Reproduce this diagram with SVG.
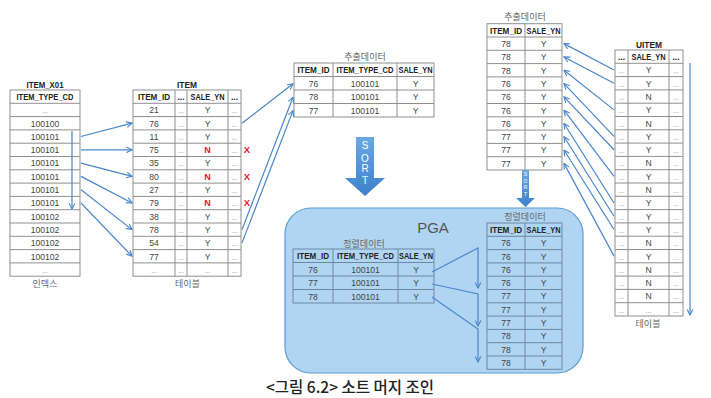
<svg xmlns="http://www.w3.org/2000/svg" width="711" height="398" viewBox="0 0 711 398">
<defs>
<style>
text{font-family:"Liberation Sans","Noto Sans CJK KR",sans-serif;text-anchor:middle}
.g{fill:#fff;stroke:#8f8f8f;stroke-width:1}
.gl{fill:none;stroke:#8f8f8f;stroke-width:1}
.pg{fill:none;stroke:#6c88a3;stroke-width:1}
.hd{font-size:8.5px;font-weight:bold;fill:#222}
.c{font-size:8.6px;fill:#444}
.d{font-size:6.5px;fill:#888}
.ttl{font-size:9.5px;font-weight:bold;fill:#222}
.kr{font-family:"Noto Sans CJK KR",sans-serif;font-size:9px;fill:#666}
.n{font-size:9px;font-weight:bold;fill:#e8141e}
.x{font-size:9.5px;font-weight:bold;fill:#e8141e}
.ar{fill:none;stroke:#4a86cc;stroke-width:1.2}
.so{font-family:"Liberation Sans",sans-serif;fill:#fff}
</style>
<marker id="ah" viewBox="0 0 10 10" refX="9" refY="5" markerWidth="7" markerHeight="7" markerUnits="userSpaceOnUse" orient="auto">
<path d="M1,1 L9,5 L1,9" fill="none" stroke="#4a86cc" stroke-width="1.6"/>
</marker>
<linearGradient id="bg" x1="0" y1="0" x2="0" y2="1">
<stop offset="0" stop-color="#6aa8e2"/>
<stop offset="1" stop-color="#3e80cc"/>
</linearGradient>
</defs>
<rect width="711" height="398" fill="#fff"/>

<!-- PGA background -->
<g id="pga">
<rect x="285" y="208" width="298" height="165" rx="26" fill="#b0d5f2" stroke="#5b9bd5" stroke-width="1.2"/>
<text x="433" y="233" style="font-family:'Liberation Sans',sans-serif;font-size:15px;fill:#555">PGA</text>
</g>

<!-- ITEM_X01 index -->
<g id="item_x01">
<text class="ttl" x="45" y="87.5" textLength="37" lengthAdjust="spacingAndGlyphs">ITEM_X01</text>
<rect class="g" x="10" y="90" width="70" height="186.2"/>
<path class="gl" d="M10,103.3H80M10,116.6H80M10,129.9H80M10,143.2H80M10,156.5H80M10,169.8H80M10,183.1H80M10,196.4H80M10,209.7H80M10,223H80M10,236.3H80M10,249.6H80M10,262.9H80"/>
<text class="hd" x="45" y="100" textLength="57" lengthAdjust="spacingAndGlyphs">ITEM_TYPE_CD</text>
<text class="d" x="45" y="113.2">...</text>
<text class="c" x="45" y="126.5">100100</text>
<text class="c" x="45" y="139.8">100101</text>
<text class="c" x="45" y="153.1">100101</text>
<text class="c" x="45" y="166.4">100101</text>
<text class="c" x="45" y="179.7">100101</text>
<text class="c" x="45" y="193">100101</text>
<text class="c" x="45" y="206.3">100101</text>
<text class="c" x="45" y="219.6">100102</text>
<text class="c" x="45" y="232.9">100102</text>
<text class="c" x="45" y="246.2">100102</text>
<text class="c" x="45" y="259.5">100102</text>
<text class="d" x="45" y="272.8">...</text>
<text class="kr" x="45" y="287">인덱스</text>
</g>

<!-- ITEM table -->
<g id="item">
<text class="ttl" x="187" y="87.5" textLength="20" lengthAdjust="spacingAndGlyphs">ITEM</text>
<rect class="g" x="133" y="90" width="108" height="186.2"/>
<path class="gl" d="M133,103.3H241M133,116.6H241M133,129.9H241M133,143.2H241M133,156.5H241M133,169.8H241M133,183.1H241M133,196.4H241M133,209.7H241M133,223H241M133,236.3H241M133,249.6H241M133,262.9H241M175,90V276.2M187,90V276.2M228,90V276.2"/>
<text class="hd" x="154" y="100" textLength="32" lengthAdjust="spacingAndGlyphs">ITEM_ID</text>
<text class="hd" x="181" y="100">...</text>
<text class="hd" x="207.5" y="100" textLength="34" lengthAdjust="spacingAndGlyphs">SALE_YN</text>
<text class="hd" x="234.5" y="100">...</text>
<g class="c">
<text x="154" y="113.2">21</text><text x="154" y="126.5">76</text><text x="154" y="139.8">11</text><text x="154" y="153.1">75</text><text x="154" y="166.4">35</text><text x="154" y="179.7">80</text><text x="154" y="193">27</text><text x="154" y="206.3">79</text><text x="154" y="219.6">38</text><text x="154" y="232.9">78</text><text x="154" y="246.2">54</text><text x="154" y="259.5">77</text>
<text x="207.5" y="113.2">Y</text><text x="207.5" y="126.5">Y</text><text x="207.5" y="139.8">Y</text><text x="207.5" y="166.4">Y</text><text x="207.5" y="193">Y</text><text x="207.5" y="219.6">Y</text><text x="207.5" y="232.9">Y</text><text x="207.5" y="246.2">Y</text><text x="207.5" y="259.5">Y</text>
</g>
<text class="n" x="207.5" y="153.1">N</text><text class="n" x="207.5" y="179.7">N</text><text class="n" x="207.5" y="206.3">N</text>
<g class="d">
<text x="181" y="113.2">...</text><text x="181" y="126.5">...</text><text x="181" y="139.8">...</text><text x="181" y="153.1">...</text><text x="181" y="166.4">...</text><text x="181" y="179.7">...</text><text x="181" y="193">...</text><text x="181" y="206.3">...</text><text x="181" y="219.6">...</text><text x="181" y="232.9">...</text><text x="181" y="246.2">...</text><text x="181" y="259.5">...</text><text x="181" y="272.8">...</text>
<text x="234.5" y="113.2">...</text><text x="234.5" y="126.5">...</text><text x="234.5" y="139.8">...</text><text x="234.5" y="153.1">...</text><text x="234.5" y="166.4">...</text><text x="234.5" y="179.7">...</text><text x="234.5" y="193">...</text><text x="234.5" y="206.3">...</text><text x="234.5" y="219.6">...</text><text x="234.5" y="232.9">...</text><text x="234.5" y="246.2">...</text><text x="234.5" y="259.5">...</text><text x="234.5" y="272.8">...</text>
<text x="154" y="272.8">...</text><text x="207.5" y="272.8">...</text>
</g>
<text class="x" x="247" y="153.1">X</text><text class="x" x="247" y="179.7">X</text><text class="x" x="247" y="206.3">X</text>
<text class="kr" x="187.5" y="287">테이블</text>
</g>

<!-- middle extracted data -->
<g id="extract1">
<text class="kr" x="365" y="59.5">추출데이터</text>
<rect class="g" x="294" y="63" width="140" height="54"/>
<path class="gl" d="M294,76.5H434M294,90H434M294,103.5H434M333,63V117M397,63V117"/>
<text class="hd" x="313.5" y="73" textLength="32" lengthAdjust="spacingAndGlyphs">ITEM_ID</text>
<text class="hd" x="365" y="73" textLength="57" lengthAdjust="spacingAndGlyphs">ITEM_TYPE_CD</text>
<text class="hd" x="415.5" y="73" textLength="34" lengthAdjust="spacingAndGlyphs">SALE_YN</text>
<g class="c">
<text x="313.5" y="86.5">76</text><text x="365" y="86.5">100101</text><text x="415.5" y="86.5">Y</text>
<text x="313.5" y="100">78</text><text x="365" y="100">100101</text><text x="415.5" y="100">Y</text>
<text x="313.5" y="113.5">77</text><text x="365" y="113.5">100101</text><text x="415.5" y="113.5">Y</text>
</g>
</g>

<!-- big SORT arrow -->
<g id="sort1">
<polygon points="356,137 374,137 374,178 385,178 365,196 345,178 356,178" fill="url(#bg)"/>
<g class="so" style="font-size:10px">
<text x="365" y="149">S</text><text x="365" y="161.5">O</text><text x="365" y="172">R</text><text x="365" y="183.5">T</text>
</g>
</g>

<!-- right extracted data -->
<g id="extract2">
<text class="kr" x="525" y="19.5">추출데이터</text>
<rect class="g" x="487" y="23.7" width="75" height="146.3"/>
<path class="gl" d="M487,37H562M487,50.3H562M487,63.6H562M487,76.9H562M487,90.2H562M487,103.5H562M487,116.8H562M487,130.1H562M487,143.4H562M487,156.7H562M525,23.7V170"/>
<text class="hd" x="506" y="33.6" textLength="32" lengthAdjust="spacingAndGlyphs">ITEM_ID</text>
<text class="hd" x="543.5" y="33.6" textLength="34" lengthAdjust="spacingAndGlyphs">SALE_YN</text>
<g class="c">
<text x="506" y="47">78</text><text x="506" y="60.3">78</text><text x="506" y="73.6">78</text><text x="506" y="86.9">76</text><text x="506" y="100.2">76</text><text x="506" y="113.5">76</text><text x="506" y="126.8">76</text><text x="506" y="140.1">77</text><text x="506" y="153.4">77</text><text x="506" y="166.7">77</text>
<text x="543.5" y="47">Y</text><text x="543.5" y="60.3">Y</text><text x="543.5" y="73.6">Y</text><text x="543.5" y="86.9">Y</text><text x="543.5" y="100.2">Y</text><text x="543.5" y="113.5">Y</text><text x="543.5" y="126.8">Y</text><text x="543.5" y="140.1">Y</text><text x="543.5" y="153.4">Y</text><text x="543.5" y="166.7">Y</text>
</g>
</g>

<!-- small SORT arrow -->
<g id="sort2">
<polygon points="522,170 529,170 529,198 535,198 525.5,207 516,198 522,198" fill="url(#bg)"/>
<g class="so" style="font-size:5px">
<text x="525.5" y="176">S</text><text x="525.5" y="182.5">O</text><text x="525.5" y="189">R</text><text x="525.5" y="195.5">T</text>
</g>
</g>

<!-- UITEM -->
<g id="uitem">
<text class="ttl" x="649" y="47.5" textLength="26" lengthAdjust="spacingAndGlyphs">UITEM</text>
<rect class="g" x="615" y="50" width="68" height="266"/>
<path class="gl" d="M615,63.3H683M615,76.6H683M615,89.9H683M615,103.2H683M615,116.5H683M615,129.8H683M615,143.1H683M615,156.4H683M615,169.7H683M615,183H683M615,196.3H683M615,209.6H683M615,222.9H683M615,236.2H683M615,249.5H683M615,262.8H683M615,276.1H683M615,289.4H683M615,302.7H683M628,50V316M669,50V316"/>
<text class="hd" x="621.5" y="60">...</text>
<text class="hd" x="648.5" y="60" textLength="34" lengthAdjust="spacingAndGlyphs">SALE_YN</text>
<text class="hd" x="676" y="60">...</text>
<g class="c">
<text x="648.5" y="73.3">Y</text><text x="648.5" y="86.6">Y</text><text x="648.5" y="99.9">N</text><text x="648.5" y="113.2">Y</text><text x="648.5" y="126.5">N</text><text x="648.5" y="139.8">Y</text><text x="648.5" y="153.1">Y</text><text x="648.5" y="166.4">N</text><text x="648.5" y="179.7">Y</text><text x="648.5" y="193">N</text><text x="648.5" y="206.3">Y</text><text x="648.5" y="219.6">Y</text><text x="648.5" y="232.9">Y</text><text x="648.5" y="246.2">N</text><text x="648.5" y="259.5">Y</text><text x="648.5" y="272.8">N</text><text x="648.5" y="286.1">N</text><text x="648.5" y="299.4">N</text>
</g>
<g class="d">
<text x="621.5" y="73.3">...</text><text x="621.5" y="86.6">...</text><text x="621.5" y="99.9">...</text><text x="621.5" y="113.2">...</text><text x="621.5" y="126.5">...</text><text x="621.5" y="139.8">...</text><text x="621.5" y="153.1">...</text><text x="621.5" y="166.4">...</text><text x="621.5" y="179.7">...</text><text x="621.5" y="193">...</text><text x="621.5" y="206.3">...</text><text x="621.5" y="219.6">...</text><text x="621.5" y="232.9">...</text><text x="621.5" y="246.2">...</text><text x="621.5" y="259.5">...</text><text x="621.5" y="272.8">...</text><text x="621.5" y="286.1">...</text><text x="621.5" y="299.4">...</text><text x="621.5" y="312.7">...</text>
<text x="676" y="73.3">...</text><text x="676" y="86.6">...</text><text x="676" y="99.9">...</text><text x="676" y="113.2">...</text><text x="676" y="126.5">...</text><text x="676" y="139.8">...</text><text x="676" y="153.1">...</text><text x="676" y="166.4">...</text><text x="676" y="179.7">...</text><text x="676" y="193">...</text><text x="676" y="206.3">...</text><text x="676" y="219.6">...</text><text x="676" y="232.9">...</text><text x="676" y="246.2">...</text><text x="676" y="259.5">...</text><text x="676" y="272.8">...</text><text x="676" y="286.1">...</text><text x="676" y="299.4">...</text><text x="676" y="312.7">...</text>
<text x="648.5" y="312.7">...</text>
</g>
<text class="kr" x="648" y="327">테이블</text>
</g>

<!-- PGA sorted data (left) -->
<g id="sorted1">
<text class="kr" x="364" y="247">정렬데이터</text>
<rect x="293" y="249" width="141" height="54" fill="none" stroke="#6c88a3"/>
<path class="pg" d="M293,262.5H434M293,276H434M293,289.5H434M333,249V303M398,249V303"/>
<text class="hd" x="313" y="259" textLength="32" lengthAdjust="spacingAndGlyphs">ITEM_ID</text>
<text class="hd" x="365.5" y="259" textLength="57" lengthAdjust="spacingAndGlyphs">ITEM_TYPE_CD</text>
<text class="hd" x="416" y="259" textLength="34" lengthAdjust="spacingAndGlyphs">SALE_YN</text>
<g class="c">
<text x="313" y="272.5">76</text><text x="365.5" y="272.5">100101</text><text x="416" y="272.5">Y</text>
<text x="313" y="286">77</text><text x="365.5" y="286">100101</text><text x="416" y="286">Y</text>
<text x="313" y="299.5">78</text><text x="365.5" y="299.5">100101</text><text x="416" y="299.5">Y</text>
</g>
</g>

<!-- PGA sorted data (right) -->
<g id="sorted2">
<text class="kr" x="525" y="219.5">정렬데이터</text>
<rect x="487" y="223" width="75" height="146.3" fill="none" stroke="#6c88a3"/>
<path class="pg" d="M487,236.3H562M487,249.6H562M487,262.9H562M487,276.2H562M487,289.5H562M487,302.8H562M487,316.1H562M487,329.4H562M487,342.7H562M487,356H562M525,223V369.3"/>
<text class="hd" x="506" y="233" textLength="32" lengthAdjust="spacingAndGlyphs">ITEM_ID</text>
<text class="hd" x="543.5" y="233" textLength="34" lengthAdjust="spacingAndGlyphs">SALE_YN</text>
<g class="c">
<text x="506" y="246.2">76</text><text x="506" y="259.5">76</text><text x="506" y="272.8">76</text><text x="506" y="286.1">76</text><text x="506" y="299.4">77</text><text x="506" y="312.7">77</text><text x="506" y="326">77</text><text x="506" y="339.3">78</text><text x="506" y="352.6">78</text><text x="506" y="365.9">78</text>
<text x="543.5" y="246.2">Y</text><text x="543.5" y="259.5">Y</text><text x="543.5" y="272.8">Y</text><text x="543.5" y="286.1">Y</text><text x="543.5" y="299.4">Y</text><text x="543.5" y="312.7">Y</text><text x="543.5" y="326">Y</text><text x="543.5" y="339.3">Y</text><text x="543.5" y="352.6">Y</text><text x="543.5" y="365.9">Y</text>
</g>
</g>

<!-- connectors -->
<g id="connectors" class="ar" marker-end="url(#ah)">
<path d="M72,131V209"/>
<path d="M81,136.5L132,123.2"/>
<path d="M81,149.8L132,149.8"/>
<path d="M81,163.1L132,176.4"/>
<path d="M81,176.4L132,203"/>
<path d="M81,189.7L132,229.6"/>
<path d="M81,203L132,256.2"/>
<path d="M242,123.2L293,83.8"/>
<path d="M242,229.6L293,97.2"/>
<path d="M242,242.9L293,110.6"/>
<path d="M614,69.95L564,43.65"/>
<path d="M614,83.25L564,56.95"/>
<path d="M614,109.85L564,70.25"/>
<path d="M614,136.45L564,83.55"/>
<path d="M614,149.75L564,96.85"/>
<path d="M614,176.35L564,110.15"/>
<path d="M614,202.95L564,123.45"/>
<path d="M614,216.25L564,136.75"/>
<path d="M614,229.55L564,150.05"/>
<path d="M614,256.15L564,163.35"/>
<path d="M690,63V315"/>
<path d="M432,272L478,248V288"/>
<path d="M432,284L478,294V326"/>
<path d="M432,297L478,329V362"/>
</g>

<text x="350" y="393" style="font-family:'Noto Sans CJK KR',sans-serif;font-size:15.5px;font-weight:500;fill:#222">&lt;그림 6.2&gt; 소트 머지 조인</text>
</svg>
